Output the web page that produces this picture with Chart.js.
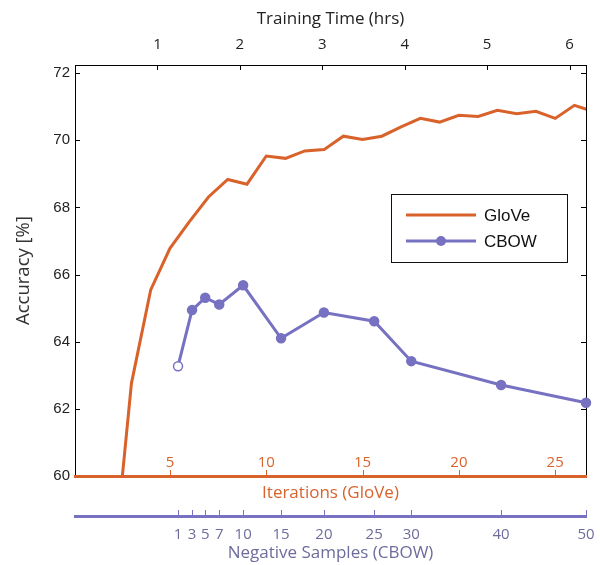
<!DOCTYPE html>
<html>
<head>
<meta charset="utf-8">
<script src="https://cdn.jsdelivr.net/npm/chart.js@4.4.1/dist/chart.umd.min.js"></script>
<style>
  body { margin: 0; background: #fff; }
  #wrap { width: 600px; height: 565px; }
</style>
</head>
<body>
<div id="wrap"><canvas id="accChart" width="600" height="565"></canvas></div>
<script>
// GloVe accuracy per training iteration
var gloveIters = [2, 3, 4, 5, 6, 7, 8, 9, 10, 11, 12, 13, 14, 15, 16, 17, 18, 19, 20, 21, 22, 23, 24, 25, 26, 27];
var gloveAcc = [56.9, 62.76, 65.54, 66.78, 67.57, 68.31, 68.83, 68.69, 69.53, 69.46, 69.68, 69.72, 70.12,
                70.02, 70.12, 70.40, 70.65, 70.54, 70.74, 70.71, 70.89, 70.79, 70.86, 70.65, 71.04, 70.85];

// CBOW: one run per negative-sample setting, placed at its training time (hrs)
var negSamples = [1, 3, 5, 7, 10, 15, 20, 25, 30, 40, 50];
var cbowHours = [1.25, 1.42, 1.58, 1.75, 2.04, 2.50, 3.02, 3.63, 4.08, 5.17, 6.20];
var cbowAcc = [63.27, 64.94, 65.31, 65.11, 65.68, 64.10, 64.87, 64.61, 63.42, 62.71, 62.18];

// tick labels
var accTicks = [60, 62, 64, 66, 68, 70, 72];
var hourTicks = [1, 2, 3, 4, 5, 6];
var iterTicks = [5, 10, 15, 20, 25];

var ORANGE = '#D9622B';
var PURPLE = '#7771C2';
var NEG_TEXT = '#6E6C9C';

function setTicks(values) {
  return function (scale) {
    scale.ticks = values.map(function (v) { return { value: v }; });
  };
}
function fixSize(prop, size) {
  return function (scale) {
    scale[prop] = size;
    // no extra side padding for edge labels, keep the plot box fixed
    scale.paddingLeft = 0;
    scale.paddingRight = 0;
  };
}
function tickLine(ctx, x1, y1, x2, y2) {
  ctx.beginPath();
  ctx.moveTo(x1, y1);
  ctx.lineTo(x2, y2);
  ctx.stroke();
}

// small tick marks drawn inward, like the original figure
var innerTicks = {
  id: 'innerTicks',
  afterDraw: function (chart) {
    var ctx = chart.ctx, a = chart.chartArea, s = chart.scales;
    ctx.save();
    ctx.lineWidth = 1;
    ctx.strokeStyle = '#000';
    s.y.ticks.forEach(function (t) {
      var py = Math.round(s.y.getPixelForValue(t.value)) + 0.5;
      if (t.value > 60) {
        tickLine(ctx, a.left, py, a.left + 5, py);
        tickLine(ctx, a.right, py, a.right - 5, py);
      }
    });
    s.hrs.ticks.forEach(function (t) {
      var px = Math.round(s.hrs.getPixelForValue(t.value)) + 0.5;
      tickLine(ctx, px, a.top, px, a.top + 5);
    });
    ctx.strokeStyle = ORANGE;
    s.it.ticks.forEach(function (t) {
      var px = Math.round(s.it.getPixelForValue(t.value)) + 0.5;
      tickLine(ctx, px, a.bottom, px, a.bottom - 6);
    });
    ctx.strokeStyle = PURPLE;
    s.neg.ticks.forEach(function (t) {
      var px = Math.round(s.neg.getPixelForValue(t.value)) + 0.5;
      tickLine(ctx, px, s.neg.top, px, s.neg.top - 6);
    });
    ctx.restore();
  }
};

// boxed legend inside the plot
var boxLegend = {
  id: 'boxLegend',
  afterDatasetsDraw: function (chart) {
    var ctx = chart.ctx, a = chart.chartArea;
    var bx = a.right - 195, by = a.top + 129, bw = 176, bh = 68;
    ctx.save();
    ctx.fillStyle = '#fff';
    ctx.fillRect(bx, by, bw, bh);
    ctx.strokeStyle = '#111';
    ctx.lineWidth = 1;
    ctx.strokeRect(bx + 0.5, by + 0.5, bw, bh);
    ctx.font = '17px "Liberation Sans", Arial, sans-serif';
    ctx.textBaseline = 'middle';
    chart.data.datasets.forEach(function (ds, i) {
      var ly = by + 21 + i * 26;
      ctx.strokeStyle = ds.borderColor;
      ctx.lineWidth = 3;
      tickLine(ctx, bx + 15, ly, bx + 85, ly);
      if (i === 1) {
        ctx.fillStyle = ds.borderColor;
        ctx.beginPath();
        ctx.arc(bx + 50, ly, 5, 0, Math.PI * 2);
        ctx.fill();
      }
      ctx.fillStyle = '#111';
      ctx.fillText(ds.label, bx + 93, ly + 1);
    });
    ctx.restore();
  }
};

var cbowPointFill = cbowAcc.map(function (v, i) { return i === 0 ? '#fff' : PURPLE; });

var options = {
  type: 'line',
  data: {
    datasets: [
      {
        label: 'GloVe',
        data: gloveIters.map(function (it, i) { return { x: it, y: gloveAcc[i] }; }),
        xAxisID: 'it',
        yAxisID: 'y',
        borderColor: ORANGE,
        borderWidth: 3,
        pointRadius: 0,
        tension: 0,
        clip: 0
      },
      {
        label: 'CBOW',
        data: cbowHours.map(function (h, i) { return { x: h, y: cbowAcc[i] }; }),
        xAxisID: 'neg',
        yAxisID: 'y',
        borderColor: PURPLE,
        borderWidth: 3,
        pointRadius: 4.5,
        pointBackgroundColor: cbowPointFill,
        pointBorderColor: PURPLE,
        pointBorderWidth: 1.5,
        tension: 0,
        clip: false
      }
    ]
  },
  options: {
    responsive: false,
    animation: false,
    layout: { padding: 0 },
    plugins: { legend: { display: false }, tooltip: { enabled: false } },
    scales: {
      y: {
        type: 'linear',
        position: 'left',
        min: 60,
        max: 72.24,
        afterBuildTicks: setTicks(accTicks),
        afterFit: fixSize('width', 75),
        grid: { display: false, drawTicks: false },
        border: { color: '#000', width: 1 },
        ticks: { color: '#222', padding: 5, font: { family: '"Liberation Sans", Arial, sans-serif', size: 15 } },
        title: {
          display: true,
          text: 'Accuracy [%]',
          color: '#333',
          padding: { top: 13, bottom: 0 },
          font: { family: '"Open Sans", sans-serif', size: 18.5 }
        }
      },
      yR: {
        type: 'linear',
        position: 'right',
        min: 60,
        max: 72.24,
        afterFit: fixSize('width', 14),
        grid: { display: false, drawTicks: false },
        border: { color: '#000', width: 1 },
        ticks: { display: false }
      },
      hrs: {
        type: 'linear',
        position: 'top',
        min: 0,
        max: 6.2,
        afterBuildTicks: setTicks(hourTicks),
        afterFit: fixSize('height', 65),
        grid: { display: false, drawTicks: false },
        border: { color: '#000', width: 1 },
        ticks: { color: '#222', padding: 11, maxRotation: 0, font: { family: '"Open Sans", sans-serif', size: 15 } },
        title: {
          display: true,
          text: 'Training Time (hrs)',
          color: '#222',
          padding: { top: 9, bottom: 0 },
          font: { family: '"Open Sans", sans-serif', size: 17 }
        }
      },
      it: {
        type: 'linear',
        position: 'bottom',
        weight: 0,
        min: 0.07,
        max: 26.6,
        afterBuildTicks: setTicks(iterTicks),
        afterFit: fixSize('height', 40),
        grid: { display: false, drawTicks: false },
        border: { color: ORANGE, width: 3 },
        ticks: { color: ORANGE, mirror: true, padding: 4, maxRotation: 0, font: { family: '"Open Sans", sans-serif', size: 15 } },
        title: {
          display: true,
          text: 'Iterations (GloVe)',
          color: ORANGE,
          padding: { top: 0, bottom: 13 },
          font: { family: '"Open Sans", sans-serif', size: 17 }
        }
      },
      neg: {
        type: 'linear',
        position: 'bottom',
        weight: 1,
        min: 0,
        max: 6.2,
        afterBuildTicks: setTicks(cbowHours),
        afterFit: fixSize('height', 49),
        grid: { display: false, drawTicks: false },
        border: { color: PURPLE, width: 3 },
        ticks: {
          color: NEG_TEXT,
          padding: 10,
          autoSkip: false,
          maxRotation: 0,
          minRotation: 0,
          font: { family: '"Open Sans", sans-serif', size: 15 },
          callback: function (value, index) { return negSamples[index]; }
        },
        title: {
          display: true,
          text: 'Negative Samples (CBOW)',
          color: NEG_TEXT,
          padding: { top: 0, bottom: 2 },
          font: { family: '"Open Sans", sans-serif', size: 17 }
        }
      }
    }
  },
  plugins: [innerTicks, boxLegend]
};

var ctx = document.getElementById('accChart').getContext('2d');
new Chart(ctx, options);
</script>
</body>
</html>
